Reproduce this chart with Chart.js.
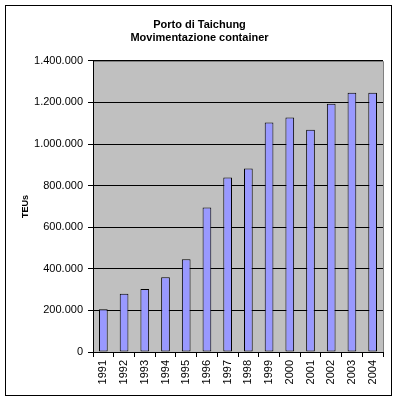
<!DOCTYPE html>
<html>
<head>
<meta charset="utf-8">
<script src="https://cdn.jsdelivr.net/npm/chart.js@4"></script>
<style>
  body { margin: 0; background: #fff; }
  canvas { display: block; }
</style>
</head>
<body>
<canvas id="myChart" width="399" height="401"></canvas>
<script>
const years = ['1991', '1992', '1993', '1994', '1995', '1996', '1997', '1998', '1999', '2000', '2001', '2002', '2003', '2004'];
const teus = [206000, 280000, 303000, 360000, 446000, 695000, 839000, 882000, 1103000, 1127000, 1069000, 1194000, 1247000, 1247000];
const titleLines = ['Porto di Taichung', 'Movimentazione container'];

const fmt = (v) => String(v).replace(/\B(?=(\d{3})+(?!\d))/g, '.');

// frame round the whole picture + grey plot area
const excelLook = {
  id: 'excel_look',
  beforeDraw: (chart) => {
    const ctx = chart.ctx;
    const {top, left, right, bottom} = chart.chartArea;
    ctx.save();
    ctx.fillStyle = '#c0c0c0';
    ctx.fillRect(left, top, right - left, bottom - top);
    ctx.restore();
  },
  afterDraw: (chart) => {
    const ctx = chart.ctx;
    const {top, left, right, bottom} = chart.chartArea;
    ctx.save();
    ctx.strokeStyle = '#808080';
    ctx.lineWidth = 1;
    ctx.beginPath();
    ctx.moveTo(left + 1, Math.round(top) + 0.5);
    ctx.lineTo(Math.round(right) + 0.5, Math.round(top) + 0.5);
    ctx.lineTo(Math.round(right) + 0.5, bottom);
    ctx.stroke();
    ctx.strokeStyle = '#000';
    ctx.strokeRect(5.5, 5.5, 386, 390);
    ctx.restore();
  }
};

new Chart(document.getElementById('myChart'), {
  type: 'bar',
  data: {
    labels: years,
    datasets: [{
      data: teus,
      backgroundColor: '#9999ff',
      borderColor: '#000',
      borderWidth: 1,
      borderSkipped: false,
      barPercentage: 0.42,
      categoryPercentage: 1
    }]
  },
  options: {
    responsive: false,
    animation: false,
    layout: { padding: { left: 16, right: 16, top: 0, bottom: 0 } },
    plugins: {
      legend: { display: false },
      tooltip: { enabled: false },
      title: {
        display: true,
        text: titleLines,
        color: '#000',
        font: { family: 'Arial, "Liberation Sans"', size: 11, weight: 'bold', lineHeight: 1.22 },
        padding: { top: 18, bottom: 16 }
      }
    },
    scales: {
      x: {
        afterFit: (scale) => { scale.height = 49; },
        grid: { offset: true, drawOnChartArea: false, drawTicks: true, tickLength: 5, color: '#000' },
        border: { color: '#000' },
        ticks: {
          autoSkip: false,
          minRotation: 90,
          maxRotation: 90,
          padding: 3,
          color: '#000',
          font: { family: 'Arial, "Liberation Sans"', size: 11 }
        }
      },
      y: {
        min: 0,
        max: 1400000,
        afterFit: (scale) => { scale.width = 77; },
        grid: { color: '#000', tickLength: 5 },
        border: { color: '#000' },
        ticks: {
          stepSize: 200000,
          padding: 5,
          color: '#000',
          font: { family: 'Arial, "Liberation Sans"', size: 11 },
          callback: (v) => fmt(v)
        },
        title: {
          display: true,
          text: 'TEUs',
          color: '#000',
          font: { family: 'Arial, "Liberation Sans"', size: 9, weight: 'bold' },
          padding: { top: 4, bottom: 0 }
        }
      }
    }
  },
  plugins: [excelLook]
});
</script>
</body>
</html>
